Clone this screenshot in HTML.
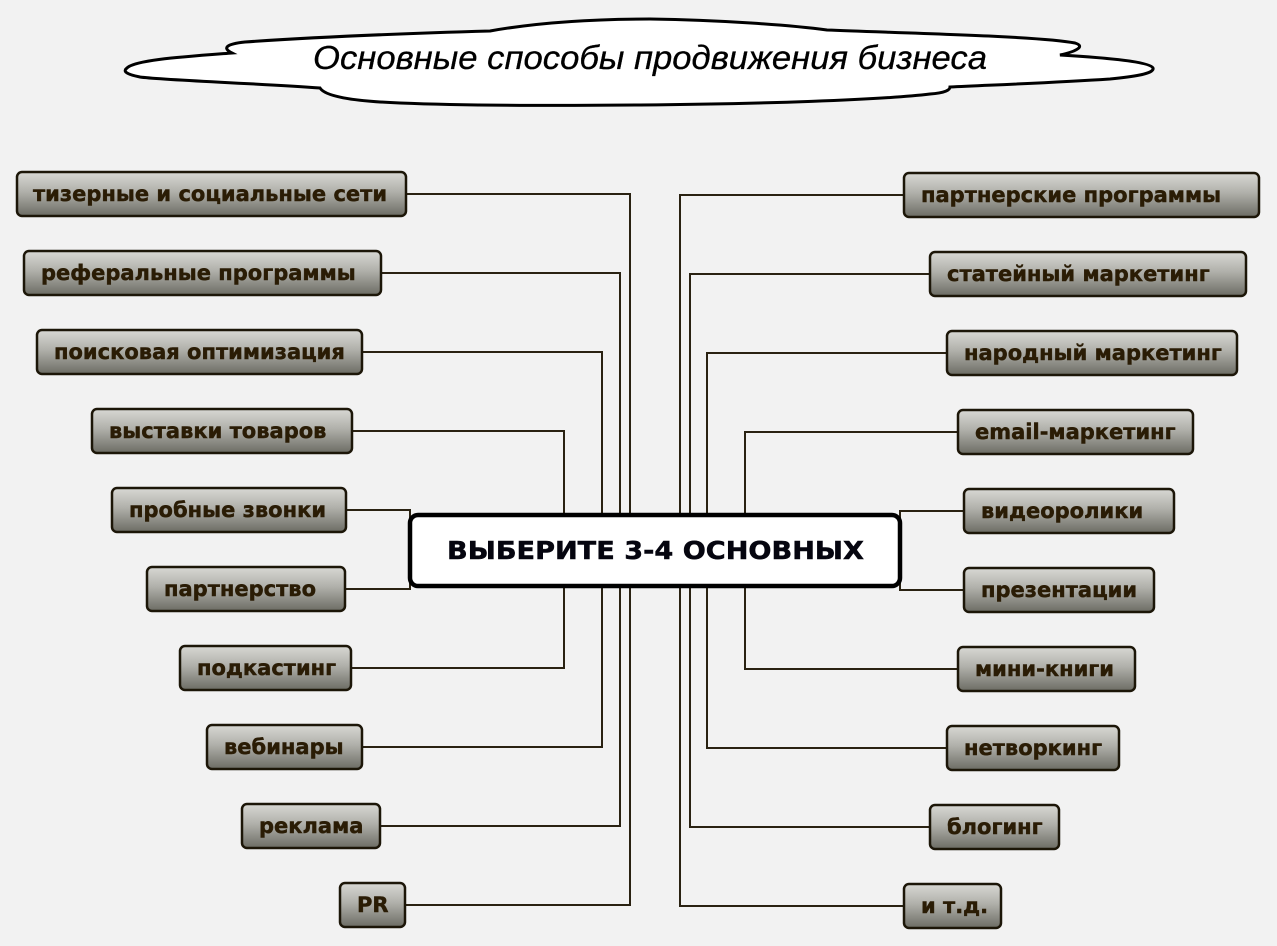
<!DOCTYPE html>
<html>
<head>
<meta charset="utf-8">
<style>
  html, body { margin: 0; padding: 0; background: #f2f2f2; }
  svg { display: block; }
  .bt { font-family: "DejaVu Sans", "Liberation Sans", sans-serif; font-weight: bold; font-size: 21px; fill: #2a1c05; stroke: #2a1c05; stroke-width: 0.45; }
  .ln { fill: none; stroke: #2a2212; stroke-width: 2; }
  .bx { fill: url(#g); stroke: #1c1608; stroke-width: 2.5; }
</style>
</head>
<body>
<svg width="1277" height="946" viewBox="0 0 1277 946" xmlns="http://www.w3.org/2000/svg">
  <defs>
    <linearGradient id="g" x1="0" y1="0" x2="0" y2="1">
      <stop offset="0" stop-color="#d8d8d4"/>
      <stop offset="0.45" stop-color="#b0b0aa"/>
      <stop offset="1" stop-color="#6c6c64"/>
    </linearGradient>
  </defs>
  <rect width="1277" height="946" fill="#f2f2f2"/>

  <!-- Cloud title -->
  <path d="M127,68 C135,60 180,57 232,53 C222,48 226,44 245,42 C330,36 420,33 490,31 C540,22 600,19 650,19 C720,20 790,25 827,30 C900,33 1040,36 1075,43 C1085,46 1078,51 1060,55 C1110,58 1150,62 1153,68 C1155,74 1130,77 1110,79 C1050,83 990,85 950,87 C950,90 945,93 930,94 C880,100 760,104 640,105 C530,106 450,105 400,103 C350,101 325,96 320,88 C250,83 160,80 140,77 C125,74 123,71 127,68 Z" fill="#ffffff" stroke="#000" stroke-width="3"/>
  <text x="313" y="69" font-family="Liberation Sans, Arial, sans-serif" font-style="italic" font-size="33" fill="#000" stroke="#000" stroke-width="0.3" textLength="674" lengthAdjust="spacingAndGlyphs">Основные способы продвижения бизнеса</text>

  <!-- Connectors left -->
  <path class="ln" d="M406,194 H630 V905 H405"/>
  <path class="ln" d="M381,273 H620 V826 H380"/>
  <path class="ln" d="M362,352 H602 V747 H362"/>
  <path class="ln" d="M351,431 H564 V668 H351"/>
  <path class="ln" d="M346,510 H410 V589 H345"/>
  <!-- Connectors right -->
  <path class="ln" d="M904,195 H680 V906 H904"/>
  <path class="ln" d="M930,274 H690 V827 H930"/>
  <path class="ln" d="M947,353 H707 V748 H947"/>
  <path class="ln" d="M958,432 H745 V669 H958"/>
  <path class="ln" d="M964,511 H900 V590 H964"/>

  <!-- Center box -->
  <rect x="410" y="515" width="490" height="71" rx="8" ry="8" fill="#ffffff" stroke="#000" stroke-width="4.5"/>
  <text x="447" y="559" font-family="DejaVu Sans, Liberation Sans, sans-serif" font-weight="bold" font-size="25" fill="#05050f" stroke="#05050f" stroke-width="0.5" textLength="417" lengthAdjust="spacingAndGlyphs">ВЫБЕРИТЕ 3-4 ОСНОВНЫХ</text>

  <!-- Left boxes -->
  <rect class="bx" x="17" y="172" width="389" height="44" rx="5"/>
  <text class="bt" x="33" y="201">тизерные и социальные сети</text>

  <rect class="bx" x="24" y="251" width="357" height="44" rx="5"/>
  <text class="bt" x="41" y="280">реферальные программы</text>

  <rect class="bx" x="37" y="330" width="325" height="44" rx="5"/>
  <text class="bt" x="54" y="359">поисковая оптимизация</text>

  <rect class="bx" x="92" y="409" width="260" height="44" rx="5"/>
  <text class="bt" x="109" y="438">выставки товаров</text>

  <rect class="bx" x="112" y="488" width="234" height="44" rx="5"/>
  <text class="bt" x="129" y="517">пробные звонки</text>

  <rect class="bx" x="147" y="567" width="198" height="44" rx="5"/>
  <text class="bt" x="164" y="596">партнерство</text>

  <rect class="bx" x="180" y="646" width="171" height="44" rx="5"/>
  <text class="bt" x="197" y="675">подкастинг</text>

  <rect class="bx" x="207" y="725" width="155" height="44" rx="5"/>
  <text class="bt" x="224" y="754">вебинары</text>

  <rect class="bx" x="242" y="804" width="138" height="44" rx="5"/>
  <text class="bt" x="259" y="833">реклама</text>

  <rect class="bx" x="340" y="883" width="65" height="44" rx="5"/>
  <text class="bt" x="357" y="912">PR</text>

  <!-- Right boxes -->
  <rect class="bx" x="904" y="173" width="355" height="44" rx="5"/>
  <text class="bt" x="921" y="202">партнерские программы</text>

  <rect class="bx" x="930" y="252" width="316" height="44" rx="5"/>
  <text class="bt" x="947" y="281">статейный маркетинг</text>

  <rect class="bx" x="947" y="331" width="290" height="44" rx="5"/>
  <text class="bt" x="964" y="360">народный маркетинг</text>

  <rect class="bx" x="958" y="410" width="235" height="44" rx="5"/>
  <text class="bt" x="975" y="439">email-маркетинг</text>

  <rect class="bx" x="964" y="489" width="210" height="44" rx="5"/>
  <text class="bt" x="981" y="518">видеоролики</text>

  <rect class="bx" x="964" y="568" width="190" height="44" rx="5"/>
  <text class="bt" x="981" y="597">презентации</text>

  <rect class="bx" x="958" y="647" width="177" height="44" rx="5"/>
  <text class="bt" x="975" y="676">мини-книги</text>

  <rect class="bx" x="947" y="726" width="172" height="44" rx="5"/>
  <text class="bt" x="964" y="755">нетворкинг</text>

  <rect class="bx" x="930" y="805" width="129" height="44" rx="5"/>
  <text class="bt" x="947" y="834">блогинг</text>

  <rect class="bx" x="904" y="884" width="97" height="44" rx="5"/>
  <text class="bt" x="921" y="913">и т.д.</text>
</svg>
</body>
</html>
